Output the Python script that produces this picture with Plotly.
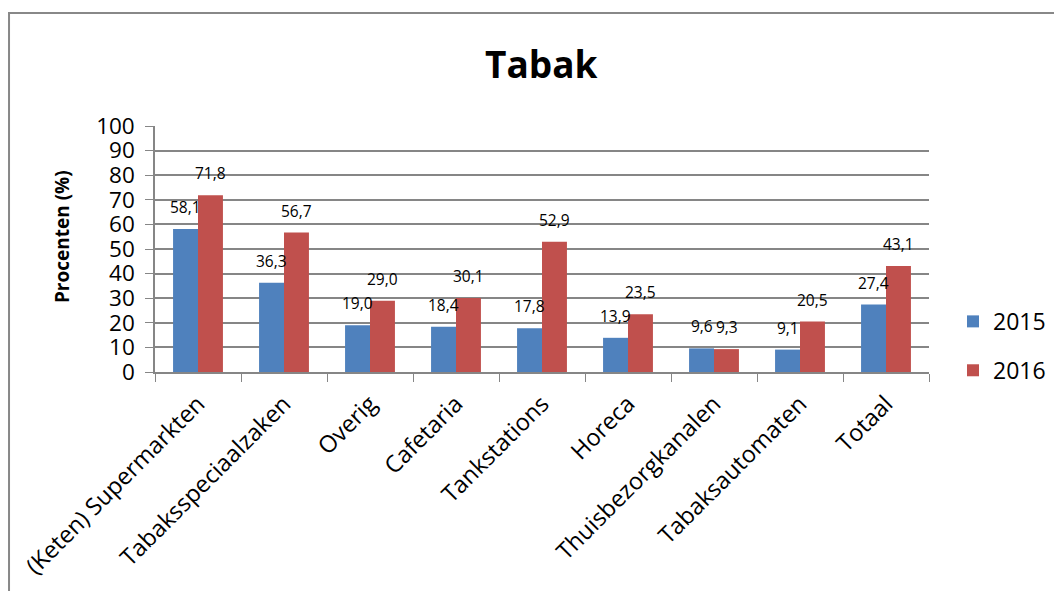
import plotly.graph_objects as go

categories = ["(Keten) Supermarkten", "Tabaksspeciaalzaken", "Overig", "Cafetaria",
              "Tankstations", "Horeca", "Thuisbezorgkanalen", "Tabaksautomaten", "Totaal"]
values_2015 = [58.1, 36.3, 19.0, 18.4, 17.8, 13.9, 9.6, 9.1, 27.4]
values_2016 = [71.8, 56.7, 29.0, 30.1, 52.9, 23.5, 9.3, 20.5, 43.1]
y_ticks = [0, 10, 20, 30, 40, 50, 60, 70, 80, 90, 100]

FONT = "Open Sans"
BLUE = "#4F81BD"
RED = "#C0504D"
GRID = "#868686"

fig = go.Figure()
fig.add_trace(go.Bar(name="2015", x=categories, y=values_2015, marker_color=BLUE,
                     marker_line_width=0, legendgroup="a"))
fig.add_trace(go.Bar(name="2016", x=categories, y=values_2016, marker_color=RED,
                     marker_line_width=0, legendgroup="b"))

def fmt(v):
    return f"{v:.1f}".replace(".", ",")

annotations = []
for series, shift in ((values_2015, -12.5), (values_2016, 12.5)):
    for c, v in zip(categories, series):
        annotations.append(dict(x=c, y=v, xref="x", yref="y", text=fmt(v), showarrow=False,
                                xshift=shift, yshift=22,
                                font=dict(family=FONT, size=15.5, color="#000")))

annotations.append(dict(text="<b>Procenten (%)</b>", xref="paper", yref="paper",
                        x=-0.12, y=0.549, textangle=-90, showarrow=False,
                        xanchor="center", yanchor="middle",
                        font=dict(family=FONT, size=19, color="#000")))

fig.update_layout(
    width=1054, height=583,
    margin=dict(l=147, r=133, t=118, b=219, autoexpand=False),
    paper_bgcolor="white", plot_bgcolor="white",
    barmode="group", bargap=0.42, bargroupgap=0,
    title=dict(text="<b>Tabak</b>", x=0.506, xanchor="center", y=0.902, yanchor="middle",
               font=dict(family=FONT, size=37, color="#000")),
    font=dict(family=FONT, color="#000"),
    showlegend=True,
    legend=dict(x=1.031, y=0.106, xanchor="left", yanchor="middle",
                font=dict(family=FONT, size=23, color="#000"), traceorder="grouped",
                tracegroupgap=16, itemsizing="constant", bgcolor="rgba(0,0,0,0)"),
    annotations=annotations,
    shapes=[dict(type="rect", xref="paper", yref="paper", x0=-0.1886, x1=1.3, y0=-1.2, y1=1.459,
                 line=dict(color="#888888", width=2), layer="below")],
)
fig.update_yaxes(range=[0, 100], tickvals=y_ticks, showgrid=True, gridcolor=GRID, gridwidth=1.5,
                 showline=True, linecolor=GRID, linewidth=1.5, ticks="outside", ticklen=8,
                 tickcolor=GRID, tickfont=dict(family=FONT, size=22.5, color="#000"),
                 ticklabelstandoff=6, zeroline=False, automargin=False)
fig.update_xaxes(showline=True, linecolor=GRID, linewidth=1.5, ticks="outside", ticklen=8,
                 tickcolor=GRID, tickson="boundaries", tickangle=-45, ticklabelstandoff=7,
                 tickfont=dict(family=FONT, size=23.5, color="#000"), showgrid=False,
                 automargin=False)

fig.write_html("out.html")
